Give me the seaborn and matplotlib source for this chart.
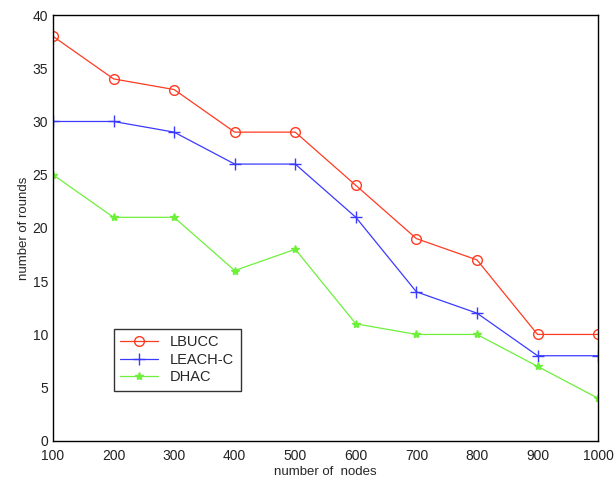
import matplotlib
matplotlib.use('Agg')
import matplotlib.pyplot as plt
import seaborn as sns
import pandas as pd

# data
nodes = [100, 200, 300, 400, 500, 600, 700, 800, 900, 1000]
lbucc = [38, 34, 33, 29, 29, 24, 19, 17, 10, 10]
leach_c = [30, 30, 29, 26, 26, 21, 14, 12, 8, 8]
dhac = [25, 21, 21, 16, 18, 11, 10, 10, 7, 4]
names = ['LBUCC', 'LEACH-C', 'DHAC']

df = pd.DataFrame({
    'nodes': nodes * 3,
    'rounds': lbucc + leach_c + dhac,
    'alg': [n for n in names for _ in nodes],
})

sns.set_style('white')
plt.rcParams['font.family'] = ['Arial', 'Liberation Sans', 'DejaVu Sans']

fig = plt.figure(figsize=(6.16, 4.84), dpi=100)
ax = fig.add_axes([0.086, 0.089, 0.885, 0.880])

colors = {'LBUCC': '#ff3b22', 'LEACH-C': '#3a3aff', 'DHAC': '#6ef03a'}
markers = {'LBUCC': 'o', 'LEACH-C': '+', 'DHAC': '*'}
msize = {'LBUCC': 7, 'LEACH-C': 8, 'DHAC': 6}
for n in names:
    sub = df[df['alg'] == n]
    sns.lineplot(data=sub, x='nodes', y='rounds', ax=ax, color=colors[n],
                 marker=markers[n], markersize=msize[n],
                 markerfacecolor='none' if n == 'LBUCC' else colors[n],
                 markeredgecolor=colors[n], markeredgewidth=1.0,
                 linewidth=0.9, label=n)

ax.set_xlim(100, 1000)
ax.set_ylim(0, 40)
ax.set_xticks(nodes)
ax.set_yticks(range(0, 41, 5))
ax.tick_params(direction='in', length=5, labelsize=10, colors='#222222')
ax.tick_params(axis='x', pad=6)
for s in ax.spines.values():
    s.set_color('black')
    s.set_linewidth(1.0)
ax.set_xlabel('number of  nodes', fontsize=9.5, labelpad=2)
ax.set_ylabel('number of rounds', fontsize=9.5, labelpad=2)

leg = ax.legend(loc='lower left', bbox_to_anchor=(0.098, 0.1), frameon=True,
                fancybox=False, fontsize=10.5, handlelength=2.6,
                borderpad=0.45, labelspacing=0.25)
leg.get_frame().set_edgecolor('black')
leg.get_frame().set_linewidth(1.0)

fig.savefig('out.png', dpi=100)
